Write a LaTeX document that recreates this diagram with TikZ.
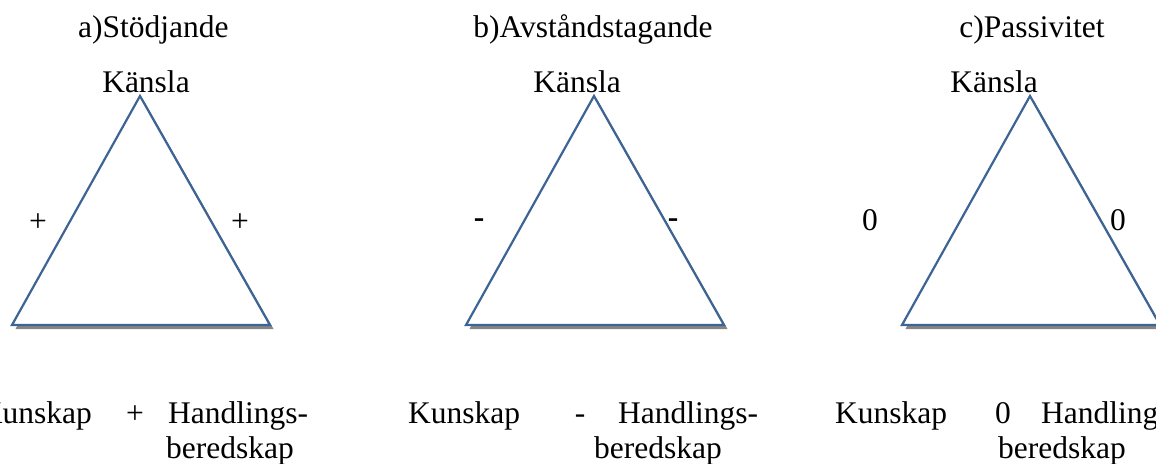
\documentclass[tikz,border=0pt]{standalone}
\usepackage{fontspec}
\setmainfont{Liberation Serif}
\definecolor{triblue}{HTML}{3C6494}
\definecolor{shadowgray}{HTML}{858585}
\begin{document}
\begin{tikzpicture}[x=1pt,y=-1pt,
  txt/.style={inner sep=0pt,font=\fontsize{31.5}{37}\selectfont},
  tri/.style={draw=triblue,line width=2.2pt,fill=white,line join=miter},
  shad/.style={fill=shadowgray,draw=none}]
\useasboundingbox (0,0) rectangle (1156,463);
% triangle vertices
\foreach \n/\dx in {a/0,b/454,c/890}{
  \coordinate (\n top) at (140+\dx,96);
  \coordinate (\n left) at (12+\dx,325);
  \coordinate (\n right) at (270+\dx,325);
  \fill[shadowgray] ([shift={(3.5,4)}]\n top) -- ([shift={(3.5,4)}]\n left) -- ([shift={(3.5,4)}]\n right) -- cycle;
  \draw[tri] (\n top) -- (\n left) -- (\n right) -- cycle;
}
% titles
\node[txt,anchor=base west] (ta) at (78,37) {a)Stödjande};
\node[txt,anchor=base] (tb) at (593,37) {b)Avståndstagande};
\node[txt,anchor=base] (tc) at (1032,37) {c)Passivitet};
% Känsla
\node[txt,anchor=base] (ka) at (146,92) {Känsla};
\node[txt,anchor=base] (kb) at (577,92) {Känsla};
\node[txt,anchor=base] (kc) at (994,92) {Känsla};
% side signs
\node[txt] (sa1) at (38,223) {+};
\node[txt] (sa2) at (240,223) {+};
\node[txt,font=\fontsize{31.5}{37}\selectfont\bfseries] (sb1) at (479,223) {-};
\node[txt,font=\fontsize{31.5}{37}\selectfont\bfseries] (sb2) at (673,223) {-};
\node[txt] (sc1) at (870,220) {0};
\node[txt] (sc2) at (1118,220) {0};
% bottom labels a
\node[txt,anchor=base east] (kua) at (92,423) {Kunskap};
\node[txt,anchor=base] (pa) at (135,423) {+};
\node[txt,anchor=base west] (ha) at (168,423) {Handlings-};
\node[txt,anchor=base west] (ba) at (166,458) {beredskap};
% bottom labels b
\node[txt,anchor=base west] (kub) at (408,423) {Kunskap};
\node[txt,anchor=base] (pb) at (580,423) {-};
\node[txt,anchor=base west] (hb) at (618,423) {Handlings-};
\node[txt,anchor=base west] (bb) at (594,458) {beredskap};
% bottom labels c
\node[txt,anchor=base west] (kuc) at (835,423) {Kunskap};
\node[txt,anchor=base] (pc) at (1003,423) {0};
\node[txt,anchor=base west] (hc) at (1041,423) {Handlings-};
\node[txt,anchor=base west] (bc) at (998,458) {beredskap};
\end{tikzpicture}
\end{document}
